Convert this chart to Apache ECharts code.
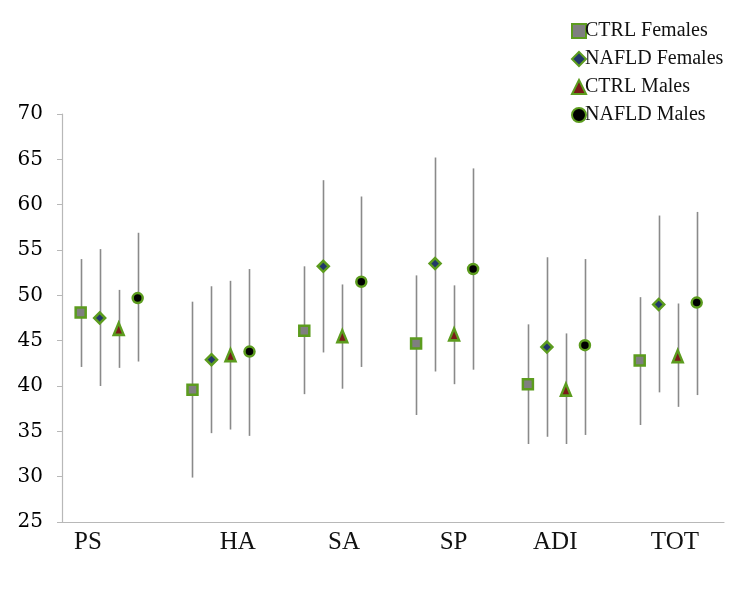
<!DOCTYPE html>
<html>
<head>
<meta charset="utf-8">
<script src="https://cdn.jsdelivr.net/npm/echarts@6/dist/echarts.min.js"></script>
<style>html,body{margin:0;padding:0;background:#fff;}#chart{width:740px;height:589px;}</style>
</head>
<body>
<div id="chart"></div>
<script>
// Categories and tick labels
const categories = ['PS', 'HA', 'SA', 'SP', 'ADI', 'TOT'];
const categoryLabelPos = [-0.19, 1.15, 2.1, 3.08, 3.99, 5.06];
const seriesNames = ['CTRL Females', 'NAFLD Females', 'CTRL Males', 'NAFLD Males'];
const yMin = 25, yMax = 70, yStep = 5;

// Values: mean, lower and upper end of each bar
const ctrlFemalesMean = [48.1, 39.6, 46.1, 44.7, 40.2, 42.8];
const ctrlFemalesLow  = [42.1, 29.9, 39.1, 36.8, 33.6, 35.7];
const ctrlFemalesHigh = [54.0, 49.3, 53.2, 52.2, 46.8, 49.8];

const nafldFemalesMean = [47.5, 42.9, 53.2, 53.5, 44.3, 49.0];
const nafldFemalesLow  = [40.0, 34.8, 43.7, 41.6, 34.4, 39.3];
const nafldFemalesHigh = [55.1, 51.0, 62.7, 65.2, 54.2, 58.8];

const ctrlMalesMean = [46.3, 43.4, 45.5, 45.7, 39.6, 43.3];
const ctrlMalesLow  = [42.0, 35.2, 39.7, 40.2, 33.6, 37.7];
const ctrlMalesHigh = [50.6, 51.6, 51.2, 51.1, 45.8, 49.1];

const nafldMalesMean = [49.7, 43.8, 51.5, 52.9, 44.5, 49.2];
const nafldMalesLow  = [42.7, 34.5, 42.1, 41.8, 34.6, 39.0];
const nafldMalesHigh = [56.9, 52.9, 60.9, 64.0, 54.0, 59.2];

// Styles
const groupOffsets = [-0.255, -0.085, 0.085, 0.255];
const green = '#5c9c1e';
const styles = [
  {symbol: 'rect', size: 10, fill: '#7f7f7f'},
  {symbol: 'diamond', size: 11, fill: '#22376a'},
  {symbol: 'triangle', size: [10, 12], fill: '#7a1a1a'},
  {symbol: 'circle', size: 10, fill: '#000000'}
];
const means = [ctrlFemalesMean, nafldFemalesMean, ctrlMalesMean, nafldMalesMean];
const lows = [ctrlFemalesLow, nafldFemalesLow, ctrlMalesLow, nafldMalesLow];
const highs = [ctrlFemalesHigh, nafldFemalesHigh, ctrlMalesHigh, nafldMalesHigh];

const series = [];
seriesNames.forEach((name, s) => {
  series.push({
    name: name + ' range',
    type: 'custom',
    z: 1,
    silent: true,
    data: categories.map((c, i) => [i + groupOffsets[s], lows[s][i], highs[s][i]]),
    encode: {x: 0, y: [1, 2]},
    renderItem: function (params, api) {
      const x = api.value(0);
      const lo = api.coord([x, api.value(1)]);
      const hi = api.coord([x, api.value(2)]);
      return {
        type: 'line',
        shape: {x1: Math.round(lo[0]) + 0.5, y1: lo[1], x2: Math.round(hi[0]) + 0.5, y2: hi[1]},
        style: {stroke: '#8a8a8a', lineWidth: 1.6}
      };
    }
  });
});
seriesNames.forEach((name, s) => {
  series.push({
    name: name,
    type: 'scatter',
    z: 3,
    symbol: styles[s].symbol,
    symbolSize: styles[s].size,
    itemStyle: {color: styles[s].fill, borderColor: green, borderWidth: 2.5, opacity: 1},
    data: categories.map((c, i) => [i + groupOffsets[s], means[s][i]])
  });
});

const chart = echarts.init(document.getElementById('chart'), null, {renderer: 'canvas'});
chart.setOption({
  animation: false,
  backgroundColor: '#ffffff',
  grid: {left: 62, right: 16, top: 114, bottom: 67, containLabel: false},
  legend: {
    orient: 'vertical',
    left: 566,
    top: 16,
    itemWidth: 14,
    itemHeight: 14,
    itemGap: 8,
    data: seriesNames,
    textStyle: {fontFamily: 'Liberation Serif', fontSize: 20, color: '#111', padding: [0, 0, 0, -6]}
  },
  xAxis: {
    type: 'value',
    min: -0.422,
    max: 5.499,
    splitLine: {show: false},
    axisLine: {show: true, onZero: false, lineStyle: {color: '#b8b8b8', width: 1.2}},
    axisTick: {show: false},
    axisLabel: {
      show: true,
      customValues: categoryLabelPos,
      formatter: function (v) {
        const k = categoryLabelPos.findIndex(p => Math.abs(p - v) < 1e-6);
        return k >= 0 ? categories[k] : '';
      },
      margin: 8,
      fontFamily: 'Liberation Serif',
      fontSize: 25,
      color: '#111'
    }
  },
  yAxis: {
    type: 'value',
    min: yMin,
    max: yMax,
    interval: yStep,
    splitLine: {show: false},
    axisLine: {show: true, onZero: false, lineStyle: {color: '#b8b8b8', width: 1.2}},
    axisTick: {show: true, inside: false, length: 5, lineStyle: {color: '#b8b8b8'}},
    axisLabel: {margin: 19, fontFamily: 'DejaVu Serif', fontSize: 20, color: '#000'}
  },
  series: series
});
</script>
</body>
</html>
